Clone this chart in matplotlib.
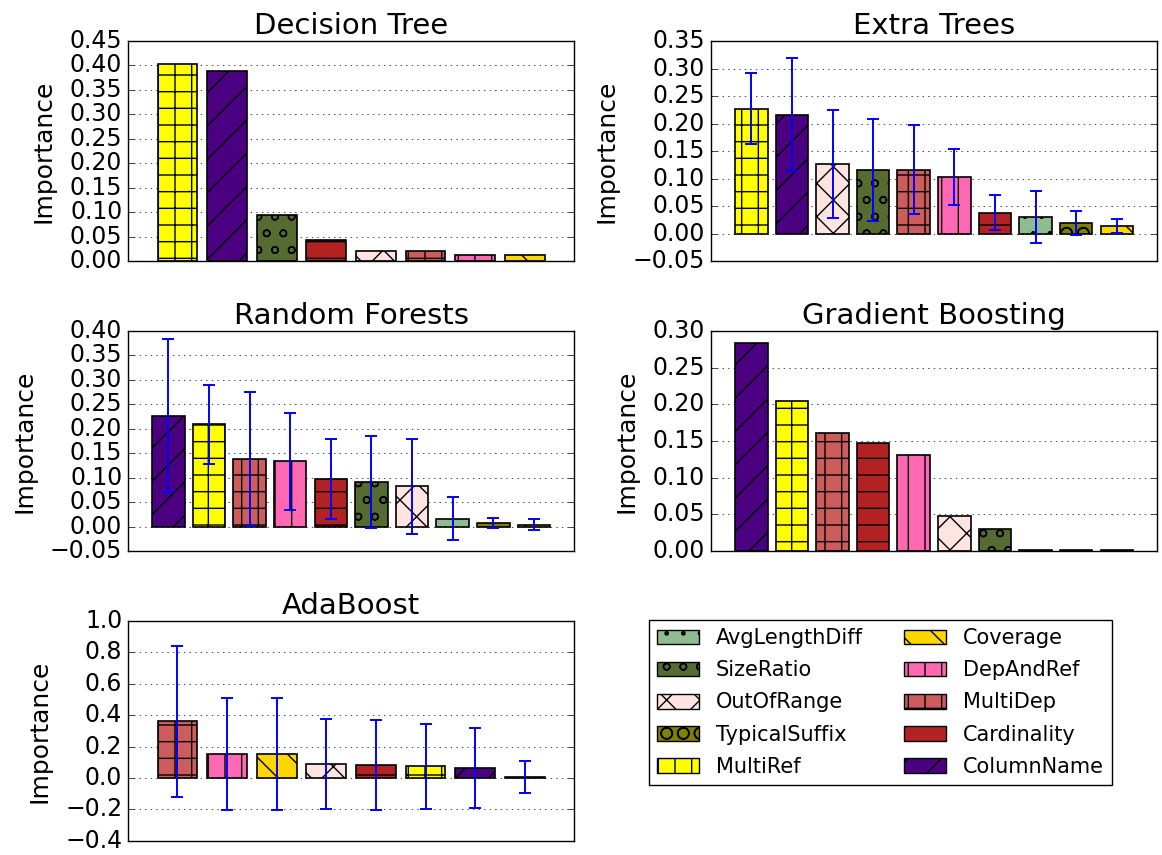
import numpy as np
import matplotlib
matplotlib.use('Agg')
import matplotlib.pyplot as plt
from matplotlib.patches import Patch

plt.style.use('classic')
plt.rcParams['font.family'] = ['DejaVu Sans']
plt.rcParams['font.size'] = 16

# feature colours / hatches
features = ['AvgLengthDiff', 'SizeRatio', 'OutOfRange', 'TypicalSuffix', 'MultiRef',
            'Coverage', 'DepAndRef', 'MultiDep', 'Cardinality', 'ColumnName']
colors = ['#8FBC8F', '#556B2F', '#FFE4E1', '#808000', '#FFFF00',
          '#FFD700', '#FF69B4', '#CD5C5C', '#B22222', '#4B0082']
hatches = ['.', 'o', 'x', 'O', '+', '\\', '|', '+', '-', '/']
style = {f: (c, h) for f, c, h in zip(features, colors, hatches)}

# Decision Tree
dt_names = ['MultiRef', 'ColumnName', 'SizeRatio', 'Cardinality', 'OutOfRange',
            'MultiDep', 'DepAndRef', 'Coverage']
dt_vals = [0.403, 0.388, 0.095, 0.042, 0.021, 0.021, 0.012, 0.012]

# Extra Trees
et_names = ['MultiRef', 'ColumnName', 'OutOfRange', 'SizeRatio', 'MultiDep',
            'DepAndRef', 'Cardinality', 'AvgLengthDiff', 'TypicalSuffix', 'Coverage']
et_vals = [0.227, 0.216, 0.127, 0.116, 0.116, 0.103, 0.038, 0.030, 0.019, 0.014]
et_std = [0.065, 0.103, 0.098, 0.093, 0.081, 0.051, 0.032, 0.047, 0.022, 0.013]

# Random Forests
rf_names = ['ColumnName', 'MultiRef', 'MultiDep', 'DepAndRef', 'Cardinality',
            'SizeRatio', 'OutOfRange', 'AvgLengthDiff', 'TypicalSuffix', 'Coverage']
rf_vals = [0.227, 0.209, 0.139, 0.133, 0.097, 0.091, 0.082, 0.016, 0.007, 0.004]
rf_std = [0.156, 0.081, 0.137, 0.100, 0.081, 0.094, 0.098, 0.044, 0.011, 0.012]

# Gradient Boosting
gb_names = ['ColumnName', 'MultiRef', 'MultiDep', 'Cardinality', 'DepAndRef',
            'OutOfRange', 'SizeRatio', 'AvgLengthDiff', 'TypicalSuffix', 'Coverage']
gb_vals = [0.284, 0.204, 0.161, 0.147, 0.131, 0.048, 0.030, 0.001, 0.001, 0.001]

# AdaBoost
ab_names = ['MultiDep', 'DepAndRef', 'Coverage', 'OutOfRange', 'Cardinality',
            'MultiRef', 'ColumnName', 'TypicalSuffix']
ab_vals = [0.36, 0.152, 0.152, 0.088, 0.084, 0.076, 0.064, 0.006]
ab_std = [0.48, 0.358, 0.358, 0.288, 0.288, 0.271, 0.257, 0.104]

panels = [
    ('Decision Tree', dt_names, dt_vals, None, (0.0, 0.45), 0.05),
    ('Extra Trees', et_names, et_vals, et_std, (-0.05, 0.35), 0.05),
    ('Random Forests', rf_names, rf_vals, rf_std, (-0.05, 0.40), 0.05),
    ('Gradient Boosting', gb_names, gb_vals, None, (0.0, 0.30), 0.05),
    ('AdaBoost', ab_names, ab_vals, ab_std, (-0.4, 1.0), 0.2),
]

fig, axes = plt.subplots(3, 2, figsize=(11.62, 8.55), dpi=100)
fig.subplots_adjust(left=0.110, right=0.996, top=0.952, bottom=0.0165,
                    wspace=0.305, hspace=0.318)

for ax, (title, names, vals, std, ylim, step) in zip(axes.flat, panels):
    x = np.arange(len(names))
    bars = ax.bar(x, vals, width=0.8, align='center',
                  color=[style[n][0] for n in names], edgecolor='k', linewidth=1.2)
    for b, n in zip(bars, names):
        b.set_hatch(style[n][1])
    if std is not None:
        ax.errorbar(x, vals, yerr=std, fmt='none', ecolor='b',
                    elinewidth=1.4, capsize=4, capthick=1.4)
    ax.set_xlim(-1, len(names))
    ax.set_ylim(*ylim)
    ax.set_yticks(np.arange(ylim[0], ylim[1] + step / 2, step))
    ax.set_xticks([])
    ax.yaxis.grid(True, linestyle=':', color='k')
    ax.set_axisbelow(True)
    ax.set_title(title, fontsize=21)
    ax.set_ylabel('Importance', fontsize=18, labelpad=10)
    ax.tick_params(labelsize=17)

axes[2, 1].axis('off')
handles = [Patch(facecolor=style[f][0], hatch=style[f][1], edgecolor='k') for f in features]
fig.legend(handles, features, ncol=2, fontsize=15, borderaxespad=0, labelspacing=0.58,
           loc='upper left', bbox_to_anchor=(649 / 1162, 1 - 620 / 855))

fig.savefig('out.png', dpi=100)
